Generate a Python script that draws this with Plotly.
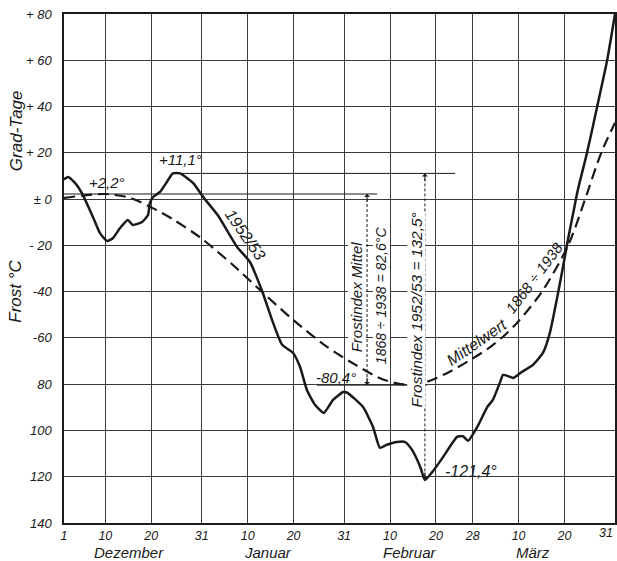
import plotly.graph_objects as go

# x = days after 1 December (0 = 1 Dez, 120 = 31 März)
days_1952 = [0, 0.9, 2.4, 3.9, 6.3, 7.8, 9.4, 10.7, 12.2, 13.9, 15.0, 17.0, 18.3, 18.7, 19.4,
             20.9, 22.4, 23.7, 25.3, 28.1, 30.3, 33.5, 37.7, 40.5, 43.3, 45.3, 47.5, 49.9,
             51.4, 52.9, 54.7, 56.6, 58.6, 60.8, 61.6, 65.1, 67.3, 68.8, 70.3, 72.5, 74.3,
             75.8, 77.6, 78.6, 80.2, 82.6, 85.6, 86.9, 88.0, 90.0, 92.2, 93.4, 95.0, 95.6,
             96.7, 97.8, 99.7, 102.1, 104.3, 105.8, 107.6, 108.7, 109.8, 110.8, 111.9,
             113.9, 116.1, 118.3, 120]
vals_1952 = [8.5, 9.6, 7.0, 2.6, -7.7, -14.6, -18.1, -16.8, -12.5, -9.0, -11.2, -9.9, -6.9, -1.7, 0.9,
             3.1, 7.4, 11.1, 11.1, 7.0, 0.9, -7.0, -20.7, -27.2, -40.6, -52.2, -63.0, -66.5,
             -72.5, -82.5, -89.0, -92.4, -86.8, -83.4, -83.6, -89.8, -98.5, -107.5, -106.2, -105.0, -105.0,
             -108.4, -115.8, -121.4, -118.0, -111.4, -102.8, -102.5, -104.5, -98.5, -89.8, -86.8, -79.0, -76.0,
             -76.5, -77.3, -74.7, -71.7, -66.5, -57.9, -40.6, -29.0, -17.0, -7.0, 3.9,
             19.9, 39.8, 60.1, 80.0]

days_mittel = [0, 8.9, 14.4, 19.2, 23.7, 29.6, 33.3, 36.8, 43.4, 49.9, 57.3, 63.8, 69.5, 75.4,
               79.7, 84.1, 88.5, 92.8, 95.6, 98.9, 104.1, 109.8, 113.5, 117.0, 120]
vals_mittel = [0.5, 2.2, 0.5, -3.8, -8.7, -16.5, -22.5, -28.5, -40.6, -52.2, -63.9, -72.0, -78.0, -80.4,
               -78.5, -74.5, -69.5, -64.0, -59.5, -53.0, -40.0, -20.0, 0.0, 20.0, 33.0]

x_tickvals = [0, 9, 19, 30, 40, 50, 61, 71, 81, 89, 99, 109, 120]
x_ticktext = ["1", "10", "20", "31", "10", "20", "31", "10", "20", "28", "10", "20", "31"]
months = ["Dezember", "Januar", "Februar", "März"]
month_pos = [14.2, 44.4, 75.3, 102.1]

y_tickvals = [80, 60, 40, 20, 0, -20, -40, -60, -80, -100, -120, -140]
y_ticktext = ["+ 80", "+ 60", "+ 40", "+ 20", "± 0", "- 20", "-40", "-60", "80", "100", "120", "140"]

# annotated values
max_mittel, min_mittel = 2.2, -80.4
max_1952, min_1952 = 11.1, -121.4
day_min_mittel, day_min_1952 = 66.0, 78.6

FONT = "Liberation Sans"
ink = "#1a1a1a"
tick_font = dict(family=FONT, size=12.5, color=ink, style="italic")

fig = go.Figure()
fig.add_trace(go.Scatter(x=days_mittel, y=vals_mittel, mode="lines",
                         line=dict(color=ink, width=2.2, dash="11px,6px", shape="spline", smoothing=0.8),
                         hoverinfo="skip", showlegend=False))
fig.add_trace(go.Scatter(x=days_1952, y=vals_1952, mode="lines",
                         line=dict(color=ink, width=2.5, shape="spline", smoothing=0.5),
                         hoverinfo="skip", showlegend=False))

# reference lines
fig.add_shape(type="line", x0=0, x1=68.2, y0=max_mittel, y1=max_mittel, line=dict(color=ink, width=1))
fig.add_shape(type="line", x0=24.6, x1=85.2, y0=max_1952, y1=max_1952, line=dict(color=ink, width=1))
fig.add_shape(type="line", x0=55.1, x1=79.0, y0=min_mittel, y1=min_mittel, line=dict(color=ink, width=1))
# dashed index arrows
fig.add_shape(type="line", x0=day_min_mittel, x1=day_min_mittel, y0=max_mittel, y1=min_mittel,
              line=dict(color=ink, width=1, dash="3px,2px"))
fig.add_shape(type="line", x0=day_min_1952, x1=day_min_1952, y0=max_1952, y1=min_1952,
              line=dict(color=ink, width=1, dash="3px,2px"))
for xd, yt, yb in [(day_min_mittel, max_mittel, min_mittel), (day_min_1952, max_1952, min_1952)]:
    fig.add_annotation(x=xd, y=yt, ax=0, ay=9, text="", showarrow=True, arrowhead=1,
                       arrowsize=1, arrowwidth=1, arrowcolor=ink)
    fig.add_annotation(x=xd, y=yb, ax=0, ay=-9, text="", showarrow=True, arrowhead=1,
                       arrowsize=1, arrowwidth=1, arrowcolor=ink)

def txt(x, y, s, size=15, angle=0, bg=None, xanchor="center"):
    fig.add_annotation(x=x, y=y, text=s, showarrow=False, textangle=angle, xanchor=xanchor,
                       font=dict(family=FONT, size=size, color=ink, style="italic"),
                       bgcolor=bg, borderpad=0)

txt(9.4, 7.0, "+2,2°")
txt(25.3, 16.9, "+11,1°")
txt(59.2, -77.3, "-80,4°")
txt(88.6, -117.9, "-121,4°", size=16)
txt(39.4, -15.5, "1952/53", size=16, angle=55)
txt(63.9, -42.3, "Frostindex Mittel", size=15, angle=-90, bg="white")
txt(69.1, -41.4, "1868 ÷ 1938 = 82,6°C", size=14, angle=-90, bg="white")
txt(76.8, -47.9, "Frostindex 1952/53 = 132,5°", size=15.5, angle=-90, bg="white")
txt(89.8, -61.8, "Mittelwert", size=16, angle=-35)
txt(102.4, -33.8, "1868 ÷ 1938", size=15, angle=-53)

# axis titles
fig.add_annotation(xref="paper", x=-0.087, xanchor="center", y=29.4, text="Grad-Tage",
                   showarrow=False, textangle=-90,
                   font=dict(family=FONT, size=17, color=ink, style="italic"))
fig.add_annotation(xref="paper", x=-0.087, xanchor="center", y=-40.0, text="Frost °C",
                   showarrow=False, textangle=-90,
                   font=dict(family=FONT, size=17, color=ink, style="italic"))
for m, p in zip(months, month_pos):
    fig.add_annotation(x=p, yref="paper", y=-0.058, text=m, showarrow=False, yanchor="middle",
                       font=dict(family=FONT, size=15, color=ink, style="italic"))

# last tick label drawn right-aligned so it stays inside the page
shown_ticktext = x_ticktext[:-1] + [""]
fig.add_annotation(x=x_tickvals[-1], yref="paper", y=0, yanchor="top", xanchor="right",
                   text=x_ticktext[-1], showarrow=False, font=tick_font, yshift=-1)

fig.update_xaxes(range=[0, 120], tickvals=x_tickvals, ticktext=shown_ticktext, showgrid=True,
                 gridcolor="#3a3a3a", gridwidth=1, showline=True, linecolor=ink, linewidth=1.5,
                 mirror=True, zeroline=False, ticks="", ticklabelstandoff=0, automargin=False,
                 tickfont=tick_font, fixedrange=True)
fig.update_yaxes(range=[-140, 80], tickvals=y_tickvals, ticktext=y_ticktext, showgrid=True,
                 gridcolor="#3a3a3a", gridwidth=1, showline=True, linecolor=ink, linewidth=1.5,
                 mirror=True, zeroline=False, ticks="", ticklabelstandoff=8, automargin=False,
                 ticklabeloverflow="allow",
                 tickfont=dict(family=FONT, size=13, color=ink, style="italic"), fixedrange=True)
fig.update_layout(width=617, height=561, margin=dict(l=64, r=2, t=14, b=38),
                  plot_bgcolor="white", paper_bgcolor="white", showlegend=False)
fig.write_html("out.html", config={"displayModeBar": False},
               post_script="document.body.style.margin='0';document.body.style.overflow='hidden';")
